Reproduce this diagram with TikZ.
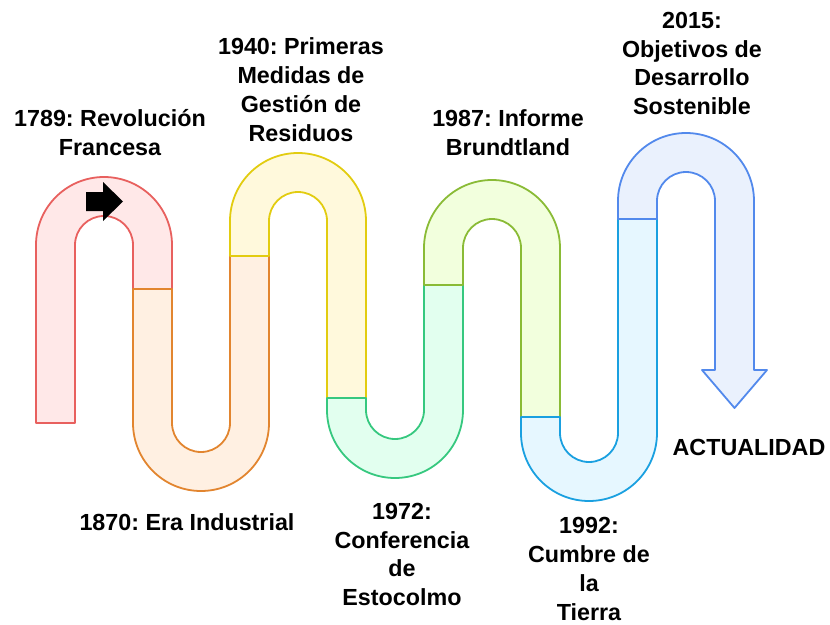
\documentclass[tikz,border=0pt]{standalone}
\usepackage{fontspec}
\setmainfont{Liberation Sans}
\usepackage{tikz}
\usetikzlibrary{calc}
\frenchspacing
\definecolor{redline}{HTML}{E8605E}\definecolor{redfill}{HTML}{FFE8E8}
\definecolor{orangeline}{HTML}{E2852F}\definecolor{orangefill}{HTML}{FFF0E2}
\definecolor{yellowline}{HTML}{E2CC10}\definecolor{yellowfill}{HTML}{FFF9DC}
\definecolor{tealline}{HTML}{36C87F}\definecolor{tealfill}{HTML}{E2FFEF}
\definecolor{limeline}{HTML}{8ABB36}\definecolor{limefill}{HTML}{F2FFDD}
\definecolor{skyline}{HTML}{1AA0E0}\definecolor{skyfill}{HTML}{E6F7FF}
\definecolor{blueline}{HTML}{5289EC}\definecolor{bluefill}{HTML}{EAF1FD}
\begin{document}
\begin{tikzpicture}[x=1pt,y=-1pt,
    tube/.style={line width=1.8pt,line join=round},
    lbl/.style={font=\fontsize{23.3}{28.8}\selectfont\bfseries,align=center,inner sep=0pt}]
          \useasboundingbox (0,0) rectangle (830,624);
          % tube pieces, left to right
          \draw[tube,draw=redline,fill=redfill] (36,423)--(36,245) arc (180:360:68) %
          --(172,289)--(133,289)--(133,245) arc (0:-180:29)--(75,423)--cycle;
          \draw[tube,draw=orangeline,fill=orangefill] (133,289)--(133,423) arc (180:0:68) %
          --(269,256)--(230,256)--(230,423) arc (0:180:29)--(172,289)--cycle;
          \draw[tube,draw=yellowline,fill=yellowfill] (230,256)--(230,221) arc (180:360:68) %
          --(366,398)--(327,398)--(327,221) arc (0:-180:29)--(269,256)--cycle;
          \draw[tube,draw=tealline,fill=tealfill] (327,398)--(327,410) arc (180:0:68) %
          --(463,285)--(424,285)--(424,410) arc (0:180:29)--(366,398)--cycle;
          \draw[tube,draw=limeline,fill=limefill] (424,285)--(424,248) arc (180:360:68) %
          --(560,417)--(521,417)--(521,248) arc (0:-180:29)--(463,285)--cycle;
          \draw[tube,draw=skyline,fill=skyfill] (521,417)--(521,433) arc (180:0:68) %
          --(657,219)--(618,219)--(618,433) arc (0:180:29)--(560,417)--cycle;
          \draw[tube,draw=blueline,fill=bluefill] (618,219)--(618,201) arc (180:360:68) %
          --(754,370)--(767,370)--(734.5,408)--(702,370)--(715,370)--(715,201) %
          arc (0:-180:29)--(657,219)--cycle;
          % start arrow
          \fill[black] (86,192)--(103,192)--(103,182)--(123,201.5)--(103,221)--(103,211)--(86,211)--cycle;
          % labels
          \node[lbl] (y1789) at (110,132.5) {1789: Revolución\\Francesa};
          \node[lbl] (y1870) at (187,522) {1870: Era Industrial};
          \node[lbl] (y1940) at (301,89.5) {1940: Primeras\\Medidas de\\Gestión de\\Residuos};
          \node[lbl] (y1972) at (402,554.5) {1972:\\Conferencia\\de\\Estocolmo};
          \node[lbl] (y1987) at (508,132.5) {1987: Informe\\Brundtland};
          \node[lbl] (y1992) at (589,569) {1992:\\Cumbre de\\la\\Tierra};
          \node[lbl] (y2015) at (692,63.5) {2015:\\Objetivos de\\Desarrollo\\Sostenible};
          \node[lbl] (today) at (749,447) {ACTUALIDAD};
        \end{tikzpicture}
\end{document}
